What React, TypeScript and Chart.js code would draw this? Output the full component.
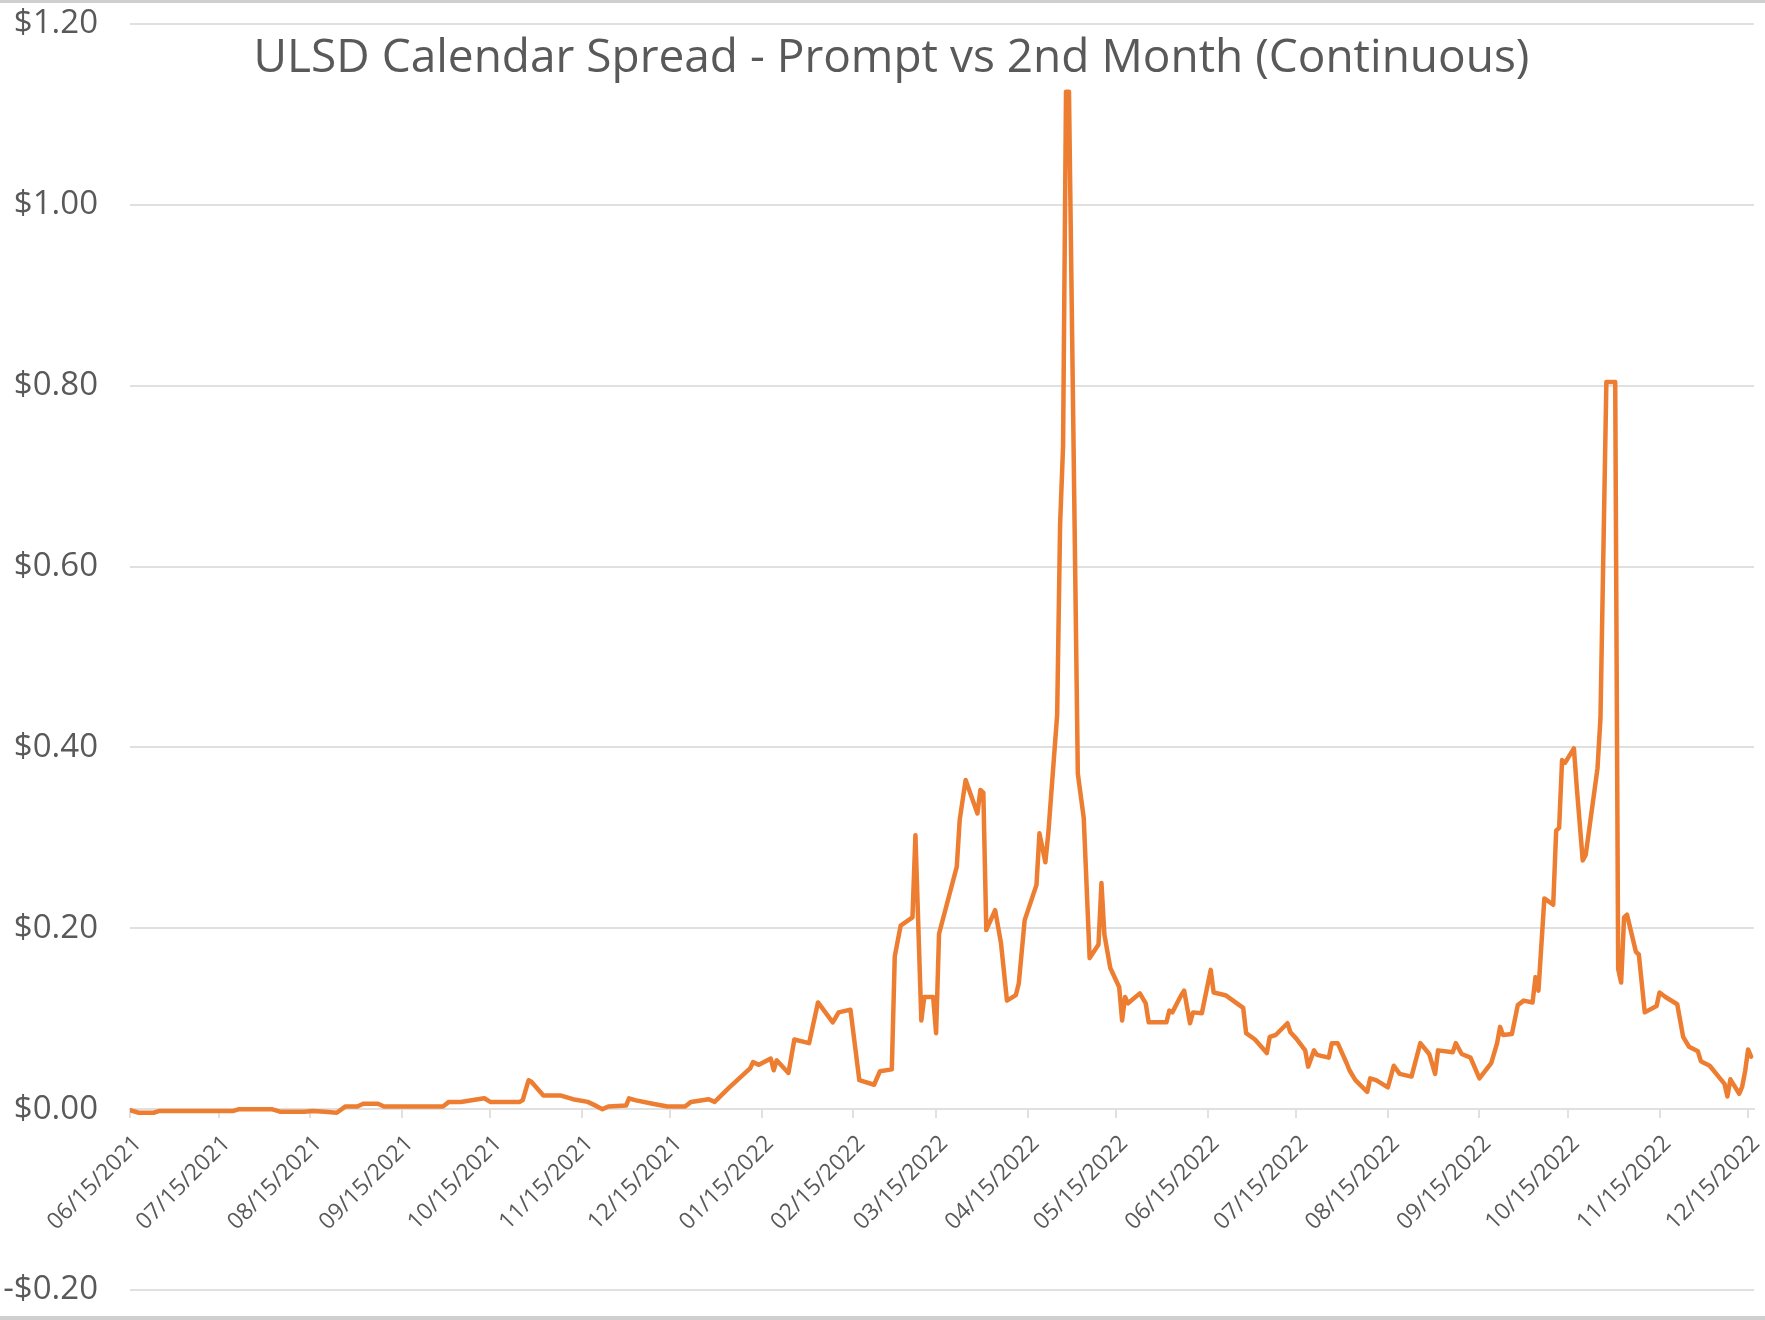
import React, { useEffect, useRef } from "react";
import { Chart, registerables } from "chart.js";

Chart.register(...registerables);

const TITLE = "ULSD Calendar Spread - Prompt vs 2nd Month (Continuous)";

const DATES = [
  "06/15/2021", "06/18/2021", "06/23/2021", "06/25/2021", "07/20/2021", "07/22/2021", "08/02/2021", "08/05/2021",
  "08/13/2021", "08/16/2021", "08/20/2021", "08/24/2021", "08/27/2021", "08/31/2021", "09/02/2021", "09/07/2021",
  "09/09/2021", "09/29/2021", "10/01/2021", "10/05/2021", "10/13/2021", "10/15/2021", "10/25/2021", "10/26/2021",
  "10/28/2021", "10/29/2021", "11/02/2021", "11/08/2021", "11/12/2021", "11/17/2021", "11/19/2021", "11/22/2021",
  "11/24/2021", "11/30/2021", "12/01/2021", "12/03/2021", "12/09/2021", "12/14/2021", "12/20/2021", "12/22/2021",
  "12/28/2021", "12/30/2021", "01/04/2022", "01/11/2022", "01/12/2022", "01/14/2022", "01/18/2022", "01/19/2022",
  "01/20/2022", "01/24/2022", "01/26/2022", "01/31/2022", "02/03/2022", "02/08/2022", "02/10/2022", "02/14/2022",
  "02/17/2022", "02/22/2022", "02/24/2022", "02/28/2022", "03/01/2022", "03/03/2022", "03/07/2022", "03/08/2022",
  "03/10/2022", "03/11/2022", "03/14/2022", "03/15/2022", "03/16/2022", "03/22/2022", "03/23/2022", "03/25/2022",
  "03/29/2022", "03/30/2022", "03/31/2022", "04/01/2022", "04/04/2022", "04/06/2022", "04/08/2022", "04/11/2022",
  "04/12/2022", "04/14/2022", "04/18/2022", "04/19/2022", "04/21/2022", "04/22/2022", "04/25/2022", "04/26/2022",
  "04/27/2022", "04/28/2022", "04/29/2022", "05/02/2022", "05/04/2022", "05/06/2022", "05/09/2022", "05/10/2022",
  "05/11/2022", "05/13/2022", "05/16/2022", "05/17/2022", "05/18/2022", "05/19/2022", "05/23/2022", "05/25/2022",
  "05/26/2022", "06/01/2022", "06/02/2022", "06/03/2022", "06/06/2022", "06/07/2022", "06/09/2022", "06/10/2022",
  "06/13/2022", "06/16/2022", "06/17/2022", "06/21/2022", "06/27/2022", "06/28/2022", "07/01/2022", "07/05/2022",
  "07/06/2022", "07/08/2022", "07/12/2022", "07/13/2022", "07/15/2022", "07/18/2022", "07/19/2022", "07/21/2022",
  "07/22/2022", "07/26/2022", "07/27/2022", "07/29/2022", "08/01/2022", "08/02/2022", "08/04/2022", "08/08/2022",
  "08/09/2022", "08/11/2022", "08/15/2022", "08/17/2022", "08/19/2022", "08/23/2022", "08/26/2022", "08/29/2022",
  "08/31/2022", "09/01/2022", "09/06/2022", "09/07/2022", "09/09/2022", "09/12/2022", "09/15/2022", "09/19/2022",
  "09/21/2022", "09/22/2022", "09/23/2022", "09/26/2022", "09/28/2022", "09/30/2022", "10/03/2022", "10/04/2022",
  "10/05/2022", "10/07/2022", "10/10/2022", "10/11/2022", "10/12/2022", "10/13/2022", "10/14/2022", "10/17/2022",
  "10/18/2022", "10/20/2022", "10/21/2022", "10/25/2022", "10/26/2022", "10/28/2022", "10/31/2022", "11/01/2022",
  "11/02/2022", "11/03/2022", "11/04/2022", "11/07/2022", "11/08/2022", "11/10/2022", "11/14/2022", "11/15/2022",
  "11/17/2022", "11/21/2022", "11/23/2022", "11/25/2022", "11/28/2022", "11/29/2022", "12/02/2022", "12/05/2022",
  "12/07/2022", "12/08/2022", "12/09/2022", "12/12/2022", "12/13/2022", "12/14/2022", "12/15/2022", "12/16/2022",
];

const VALUES = [
  -0.001, -0.004, -0.004, -0.002, -0.002, 0.0, 0.0, -0.003,
  -0.003, -0.002, -0.003, -0.004, 0.003, 0.003, 0.006, 0.006,
  0.003, 0.003, 0.008, 0.008, 0.012, 0.008, 0.008, 0.01,
  0.032, 0.03, 0.015, 0.015, 0.011, 0.008, 0.005, 0.0,
  0.003, 0.004, 0.012, 0.01, 0.006, 0.003, 0.003, 0.008,
  0.011, 0.008, 0.024, 0.045, 0.052, 0.049, 0.056, 0.043,
  0.054, 0.04, 0.077, 0.073, 0.118, 0.096, 0.107, 0.11,
  0.032, 0.027, 0.042, 0.044, 0.169, 0.203, 0.212, 0.303,
  0.098, 0.124, 0.124, 0.084, 0.194, 0.268, 0.32, 0.364,
  0.327, 0.353, 0.35, 0.198, 0.22, 0.183, 0.12, 0.126,
  0.139, 0.209, 0.248, 0.305, 0.273, 0.305, 0.436, 0.647,
  0.733, 1.125, 1.125, 0.371, 0.322, 0.167, 0.182, 0.25,
  0.193, 0.156, 0.135, 0.098, 0.124, 0.117, 0.128, 0.117,
  0.096, 0.096, 0.109, 0.107, 0.126, 0.131, 0.095, 0.107,
  0.106, 0.154, 0.129, 0.126, 0.112, 0.084, 0.077, 0.062,
  0.08, 0.082, 0.095, 0.085, 0.078, 0.065, 0.047, 0.065,
  0.06, 0.057, 0.073, 0.073, 0.051, 0.043, 0.032, 0.019,
  0.034, 0.032, 0.024, 0.048, 0.039, 0.036, 0.073, 0.061,
  0.039, 0.065, 0.063, 0.073, 0.061, 0.057, 0.034, 0.051,
  0.073, 0.091, 0.082, 0.083, 0.115, 0.12, 0.118, 0.146,
  0.131, 0.233, 0.226, 0.308, 0.311, 0.386, 0.383, 0.399,
  0.355, 0.275, 0.281, 0.377, 0.432, 0.804, 0.804, 0.155,
  0.14, 0.212, 0.215, 0.174, 0.171, 0.107, 0.114, 0.129,
  0.124, 0.116, 0.08, 0.069, 0.064, 0.053, 0.048, 0.036,
  0.028, 0.014, 0.033, 0.017, 0.025, 0.042, 0.066, 0.058,
];

const X_TICK_LABELS = [
  "06/15/2021", "07/15/2021", "08/15/2021", "09/15/2021", "10/15/2021", "11/15/2021", "12/15/2021",
  "01/15/2022", "02/15/2022", "03/15/2022", "04/15/2022", "05/15/2022", "06/15/2022", "07/15/2022",
  "08/15/2022", "09/15/2022", "10/15/2022", "11/15/2022", "12/15/2022",
];

const X_AXIS_START = "06/15/2021";
const X_AXIS_END = "12/17/2022";

const Y_MIN = -0.2;
const Y_MAX = 1.2;
const Y_STEP = 0.2;

const LINE_COLOR = "#ED7D31";
const TEXT_COLOR = "#595959";
const GRID_COLOR = "#E0E0E0";

function dayIndex(s: string): number {
  const [m, d, y] = s.split("/").map(Number);
  const [m0, d0, y0] = X_AXIS_START.split("/").map(Number);
  return Math.round((Date.UTC(y, m - 1, d) - Date.UTC(y0, m0 - 1, d0)) / 86400000);
}

function money(v: number): string {
  const r = Math.round(v * 100) / 100;
  return (r < 0 ? "-$" : "$") + Math.abs(r).toFixed(2);
}

const framePlugin = {
  id: "frame",
  beforeDraw(chart: any) {
    const { ctx, width, height } = chart;
    ctx.save();
    ctx.fillStyle = "#FFFFFF";
    ctx.fillRect(0, 0, width, height);
    ctx.restore();
  },
  beforeDatasetsDraw(chart: any) {
    const { ctx, width, chartArea } = chart;
    ctx.save();
    ctx.fillStyle = TEXT_COLOR;
    ctx.font = '46px "Open Sans"';
    ctx.textAlign = "center";
    ctx.textBaseline = "alphabetic";
    ctx.fillText(TITLE, width / 2 + 9, chartArea.top + 48);
    ctx.restore();
  },
  afterDraw(chart: any) {
    const { ctx, width, height } = chart;
    ctx.save();
    ctx.fillStyle = "#CFCFCF";
    ctx.fillRect(0, 0, width, 3);
    ctx.fillRect(0, height - 4, width, 4);
    ctx.restore();
  },
};

export default function App() {
  const canvasRef = useRef<HTMLCanvasElement | null>(null);

  useEffect(() => {
    document.body.style.margin = "0";
    const canvas = canvasRef.current;
    if (!canvas) return;
    const points = DATES.map((d, i) => ({ x: dayIndex(d), y: VALUES[i] }));
    const chart = new Chart(canvas, {
      type: "line",
      data: {
        datasets: [
          {
            data: points,
            borderColor: LINE_COLOR,
            borderWidth: 4.5,
            pointRadius: 0,
            tension: 0,
            fill: false,
            borderJoinStyle: "round",
            borderCapStyle: "round",
          },
        ],
      },
      options: {
        animation: false,
        responsive: false,
        devicePixelRatio: 1,
        layout: { padding: { top: 24, bottom: 30, left: 0, right: 11 } },
        plugins: {
          legend: { display: false },
          title: { display: false },
          tooltip: { enabled: false },
        },
        scales: {
          x: {
            type: "linear",
            axis: "x",
            position: { y: 0 },
            min: dayIndex(X_AXIS_START),
            max: dayIndex(X_AXIS_END),
            afterBuildTicks: (s: any) => {
              s.ticks = X_TICK_LABELS.map((l) => ({ value: dayIndex(l) }));
            },
            afterFit: (s: any) => {
              s.paddingLeft = 0;
              s.paddingRight = 0;
              s.paddingTop = 0;
              s.paddingBottom = 0;
            },
            grid: {
              drawOnChartArea: false,
              drawTicks: true,
              tickLength: 8,
              color: GRID_COLOR,
              lineWidth: 2,
            },
            border: { display: true, color: GRID_COLOR, width: 2 },
            ticks: {
              autoSkip: false,
              minRotation: 45,
              maxRotation: 45,
              padding: 13,
              labelOffset: 8,
              color: TEXT_COLOR,
              font: { family: "Open Sans", size: 23 },
              callback: (_v: any, i: number) => X_TICK_LABELS[i],
            },
          },
          y: {
            type: "linear",
            position: "left",
            min: Y_MIN,
            max: Y_MAX,
            afterFit: (s: any) => {
              s.width = 130;
              s.paddingTop = 0;
              s.paddingBottom = 0;
            },
            grid: { color: GRID_COLOR, lineWidth: 2, drawTicks: false },
            border: { display: false },
            ticks: {
              stepSize: Y_STEP,
              padding: 32,
              color: TEXT_COLOR,
              font: { family: "Open Sans", size: 33 },
              callback: (v: any) => money(Number(v)),
            },
          },
        },
      } as any,
      plugins: [framePlugin],
    });
    return () => chart.destroy();
  }, []);

  return <canvas ref={canvasRef} width={1765} height={1320} style={{ display: "block" }} />;
}
